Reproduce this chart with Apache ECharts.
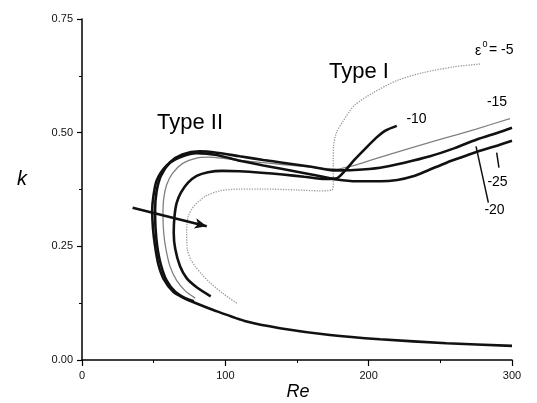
<!DOCTYPE html>
<html>
<head>
<meta charset="utf-8">
<script src="https://cdn.jsdelivr.net/npm/echarts@6/dist/echarts.min.js"></script>
<style>html,body{margin:0;padding:0;background:#fff}#c{width:537px;height:403px}</style>
</head>
<body>
<div id="c"></div>
<script>
// Axis ticks
const xTicks = [0, 100, 200, 300];
const yTicks = [0.00, 0.25, 0.50, 0.75];

// Neutral curves (Re, k) for each eps0
const curveM25 = [[300,0.482],[290,0.472],[277.7,0.460],[265,0.446],[254.4,0.434],[242,0.418],[231,0.404],[220,0.396],[208,0.393],[192,0.393],[177.7,0.397],[160,0.408],[140,0.420],[126.5,0.428],[110,0.438],[94,0.451],[80,0.455],[68.4,0.446],[59.1,0.428],[52.1,0.395],[49.8,0.36],[49,0.33],[49.5,0.29],[51,0.25],[53.3,0.21],[57,0.178],[63.7,0.15],[70,0.138],[77,0.128],[91.6,0.110],[114.9,0.0845],[138.1,0.070],[173,0.055],[207.9,0.0456],[254.4,0.0368],[300,0.031]];
const curveM20 = [[300,0.511],[290,0.500],[275.4,0.485],[260,0.466],[242.8,0.448],[225,0.434],[208,0.423],[190,0.418],[175.3,0.417],[160,0.425],[140,0.434],[126.5,0.440],[110,0.448],[94,0.456],[82,0.459],[70,0.452],[61.5,0.435],[55,0.405],[52,0.37],[51,0.33],[51.3,0.29],[52.5,0.25],[55,0.21],[59,0.175],[65,0.15],[72,0.136],[78,0.129]];
const curveM15 = [[298.6,0.531],[275,0.508],[249.8,0.485],[225,0.462],[203.2,0.441],[190,0.428],[178,0.42],[160,0.424],[140,0.43],[117,0.437],[100,0.443],[88,0.446],[80,0.444],[70,0.432],[63,0.41],[59,0.385],[57,0.355],[56.5,0.32],[57,0.28],[58.5,0.245],[61.4,0.206],[66,0.175],[72,0.152],[79,0.136]];
const curveM10 = [[219.6,0.515],[212,0.505],[205,0.488],[198,0.466],[190,0.44],[184,0.418],[178,0.40],[170,0.398],[155,0.403],[140,0.408],[125,0.412],[110,0.415],[98,0.416],[88,0.413],[80,0.405],[74,0.390],[69,0.368],[66,0.345],[64.5,0.315],[64,0.28],[65,0.245],[68.4,0.206],[73,0.18],[80,0.16],[89.8,0.14]];
const curveM5 = [[277.7,0.651],[260,0.645],[238,0.632],[220,0.615],[203.2,0.588],[190,0.56],[182.3,0.526],[177.5,0.50],[175.5,0.47],[175.3,0.43],[175.3,0.39],[174.5,0.374],[165,0.372],[150,0.374],[126,0.376],[110,0.376],[96,0.372],[86,0.36],[78,0.338],[74,0.315],[73,0.28],[73.5,0.243],[76,0.22],[79,0.206],[84,0.187],[89.3,0.17],[98,0.147],[108,0.125]];

// Annotation lines (data coords)
const arrowEps = [[35.3,0.335],[87,0.294]];
const pointerM20 = [[283.5,0.346],[274.9,0.470]];
const pointerM25 = [[290.9,0.423],[289.3,0.456]];

const FONT = '"Liberation Sans", Arial, sans-serif';
const chart = echarts.init(document.getElementById('c'));

function thick(name, data) {
  return {name, type:'line', data, symbol:'none', smooth:0.25, silent:true,
    lineStyle:{color:'#111', width:2.6}};
}

chart.setOption({
  animation:false,
  grid:{left:82, right:25, top:19, bottom:43},
  xAxis:{type:'value', min:xTicks[0], max:xTicks[xTicks.length-1], interval:100,
    axisLine:{show:true, lineStyle:{color:'#000', width:1.5}},
    axisTick:{show:true, length:6, lineStyle:{color:'#000', width:1.2}},
    minorTick:{show:true, splitNumber:2, length:3, lineStyle:{color:'#000', width:1}},
    splitLine:{show:false},
    axisLabel:{margin:10, fontSize:11, color:'#111', fontFamily:FONT}},
  yAxis:{type:'value', min:yTicks[0], max:yTicks[yTicks.length-1], interval:0.25,
    axisLine:{show:true, lineStyle:{color:'#000', width:1.5}},
    axisTick:{show:true, length:5, lineStyle:{color:'#000', width:1.2}},
    minorTick:{show:true, splitNumber:2, length:3, lineStyle:{color:'#000', width:1}},
    splitLine:{show:false},
    axisLabel:{margin:9, fontSize:11, color:'#111', fontFamily:FONT,
      formatter:v=>v.toFixed(2)}},
  series:[
    {name:'-5', type:'line', data:curveM5, symbol:'none', smooth:0.25, silent:true,
      lineStyle:{color:'#9a9a9a', width:1.3, type:'dotted'}},
    {name:'-15', type:'line', data:curveM15, symbol:'none', smooth:0.25, silent:true,
      lineStyle:{color:'#808080', width:1.3}},
    thick('-10', curveM10),
    thick('-20', curveM20),
    thick('-25', curveM25),
    {type:'line', data:[], silent:true,
      markLine:{silent:true, animation:false, label:{show:false},
        symbol:['none','none'],
        lineStyle:{color:'#111', width:1.5, type:'solid'},
        data:[
          [{coord:pointerM20[0]},{coord:pointerM20[1]}],
          [{coord:pointerM25[0]},{coord:pointerM25[1]}],
          [{coord:arrowEps[0], symbol:'none', lineStyle:{width:2.6}},{coord:arrowEps[1], symbol:'arrow', symbolSize:[8,12]}]
        ]}}
  ],
  graphic:[
    {type:'text', style:{text:'k', x:22, y:179, font:'italic 20px '+FONT, textAlign:'center', textVerticalAlign:'middle', fill:'#000'}},
    {type:'text', style:{text:'Re', x:298, y:392, font:'italic 18px '+FONT, textAlign:'center', textVerticalAlign:'middle', fill:'#000'}},
    {type:'text', style:{text:'Type II', x:190, y:123, font:'22px '+FONT, textAlign:'center', textVerticalAlign:'middle', fill:'#000'}},
    {type:'text', style:{text:'Type I', x:359, y:72, font:'22px '+FONT, textAlign:'center', textVerticalAlign:'middle', fill:'#000'}},
    {type:'text', style:{text:'-10', x:416.5, y:119.5, font:'14px '+FONT, textAlign:'center', textVerticalAlign:'middle', fill:'#000'}},
    {type:'text', style:{text:'-15', x:497, y:101.7, font:'14px '+FONT, textAlign:'center', textVerticalAlign:'middle', fill:'#000'}},
    {type:'text', style:{text:'-25', x:497.5, y:181.7, font:'14px '+FONT, textAlign:'center', textVerticalAlign:'middle', fill:'#000'}},
    {type:'text', style:{text:'-20', x:494.5, y:209.7, font:'14px '+FONT, textAlign:'center', textVerticalAlign:'middle', fill:'#000'}},
    {type:'text', style:{text:'ε', x:478, y:51.5, font:'14px '+FONT, textAlign:'center', textVerticalAlign:'middle', fill:'#000'}},
    {type:'text', style:{text:'0', x:485, y:44.5, font:'9px '+FONT, textAlign:'center', textVerticalAlign:'middle', fill:'#000'}},
    {type:'text', style:{text:'= -5', x:489, y:50, font:'14px '+FONT, textAlign:'left', textVerticalAlign:'middle', fill:'#000'}}
  ]
});
</script>
</body>
</html>
